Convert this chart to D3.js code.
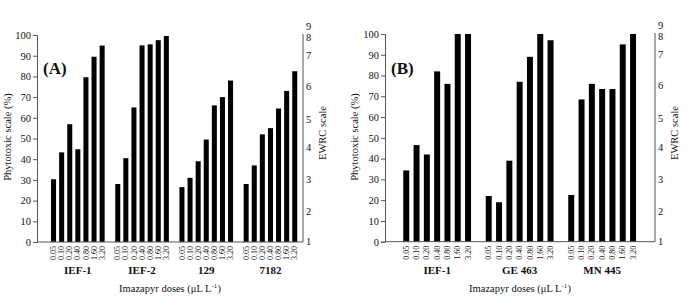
<!DOCTYPE html>
<html>
<head>
<meta charset="utf-8">
<script src="https://cdn.jsdelivr.net/npm/d3@7"></script>
<style>
  body { margin: 0; background: #fff; }
  svg text { font-family: "Liberation Serif", "Times New Roman", serif; fill: #111; }
</style>
</head>
<body>
<div id="chart"></div>
<script>
// data
var doses = ["0.05", "0.10", "0.20", "0.40", "0.80", "1.60", "3.20"];

var groupsA = ["IEF-1", "IEF-2", "129", "7182"];
var a_IEF1 = [30.3, 43.3, 56.9, 44.8, 79.6, 89.5, 94.9];
var a_IEF2 = [28, 40.5, 65, 95, 95.5, 97.5, 99.5];
var a_129 = [26.5, 31, 39, 49.5, 66, 70, 78];
var a_7182 = [28, 37, 52, 55, 64.5, 73, 82.5];

var groupsB = ["IEF-1", "GE 463", "MN 445"];
var b_IEF1 = [34.3, 46.5, 42, 82, 76, 100, 100];
var b_GE463 = [22, 19, 39, 77, 89, 100, 97];
var b_MN445 = [22.5, 68.5, 76, 73.5, 73.5, 95, 100];

var pctTicks = [0, 10, 20, 30, 40, 50, 60, 70, 80, 90, 100];
// EWRC labels and where they sit on the % scale
var ewrcTicks = ["1", "2", "3", "4", "5", "6", "7", "8", "9"];
var ewrcPct = [0, 14.5, 30, 45.4, 59.4, 75, 90, 98.6, 104.3];

var W = 687, H = 301;

var svg = d3.select("#chart").append("svg")
  .attr("width", W)
  .attr("height", H);

function drawPanel(p) {
  var self = svg.append("g");

  var y = d3.scaleLinear().domain([0, 100]).range([p.bottom, p.top]);

  var x0 = d3.scaleBand()
    .domain(p.groups)
    .range(p.groupRange)
    .paddingInner(p.groupPad)
    .paddingOuter(0);

  var x1 = d3.scaleBand()
    .domain(doses)
    .range([0, x0.bandwidth()])
    .paddingInner(p.barPad)
    .paddingOuter(p.barPad / 2);

  // bars
  p.groups.forEach(function(g, gi) {
    var vals = p.values[gi];
    self.append("g")
      .selectAll("rect")
      .data(vals)
      .enter().append("rect")
      .attr("x", function(d, i) { return x0(g) + x1(doses[i]); })
      .attr("y", function(d) { return y(d); })
      .attr("width", x1.bandwidth())
      .attr("height", function(d) { return p.bottom - y(d); })
      .attr("fill", "#000");

    // dose labels, rotated
    self.append("g")
      .selectAll("text")
      .data(doses)
      .enter().append("text")
      .attr("transform", function(d) {
        var cx = x0(g) + x1(d) + x1.bandwidth() / 2;
        return "translate(" + cx + "," + (p.bottom + 4) + ") rotate(-90)";
      })
      .attr("dy", "0.33em")
      .attr("text-anchor", "end")
      .style("font-size", "8px")
      .text(function(d) { return d; });

    // group name
    self.append("text")
      .attr("x", x0(g) + x0.bandwidth() / 2)
      .attr("y", p.bottom + 32)
      .attr("text-anchor", "middle")
      .style("font-size", "11px")
      .style("font-weight", "bold")
      .text(g);
  });

  // left axis
  var yAxis = self.append("g")
    .attr("transform", "translate(" + p.left + ",0)")
    .call(d3.axisLeft(y).tickValues(pctTicks).tickSize(4).tickPadding(2));
  yAxis.select(".domain").attr("stroke", "#555");
  yAxis.selectAll(".tick line").attr("stroke", "#555");
  yAxis.selectAll("text")
    .style("font-family", "Liberation Serif, serif")
    .style("font-size", "10.5px")
    .attr("fill", "#111");

  // bottom line
  self.append("line")
    .attr("x1", p.left).attr("x2", p.right)
    .attr("y1", p.bottom).attr("y2", p.bottom)
    .attr("stroke", "#555");

  // right axis (EWRC)
  self.append("line")
    .attr("x1", p.right).attr("x2", p.right)
    .attr("y1", p.bottom).attr("y2", y(100) - 1)
    .attr("stroke", "#555");
  self.append("g")
    .selectAll("text")
    .data(ewrcTicks)
    .enter().append("text")
    .attr("x", p.right + 3)
    .attr("y", function(d, i) { return y(ewrcPct[i]); })
    .attr("dy", "0.33em")
    .style("font-size", "10.5px")
    .text(function(d) { return d; });

  // axis titles
  self.append("text")
    .attr("transform", "translate(" + p.yTitleX + "," + 137 + ") rotate(-90)")
    .attr("text-anchor", "middle")
    .attr("dy", "0.35em")
    .style("font-size", "10.5px")
    .text("Phytotoxic scale (%)");

  self.append("text")
    .attr("transform", "translate(" + (p.right + 19) + "," + 133 + ") rotate(-90)")
    .attr("text-anchor", "middle")
    .attr("dy", "0.35em")
    .style("font-size", "10.5px")
    .text("EWRC scale");

  var xt = self.append("text")
    .attr("x", (p.left + p.right) / 2)
    .attr("y", p.bottom + 50)
    .attr("text-anchor", "middle")
    .style("font-size", "10.5px");
  xt.append("tspan").text("Imazapyr doses (\u03bcL L");
  xt.append("tspan").attr("dy", "-4").style("font-size", "7px").text("-1");
  xt.append("tspan").attr("dy", "4").text(")");

  // panel letter
  self.append("text")
    .attr("x", p.left + 6)
    .attr("y", 74)
    .style("font-size", "17px")
    .style("font-weight", "bold")
    .text(p.letter);
}

drawPanel({
  letter: "(A)",
  groups: groupsA,
  values: [a_IEF1, a_IEF2, a_129, a_7182],
  left: 37, right: 303, top: 35, bottom: 242,
  groupRange: [49.5, 298.8], groupPad: 0.117, barPad: 0.38,
  yTitleX: 7
});

drawPanel({
  letter: "(B)",
  groups: groupsB,
  values: [b_IEF1, b_GE463, b_MN445],
  left: 385, right: 655, top: 34, bottom: 241.7,
  groupRange: [401.1, 638.2], groupPad: 0.126, barPad: 0.42,
  yTitleX: 354
});
</script>
</body>
</html>
